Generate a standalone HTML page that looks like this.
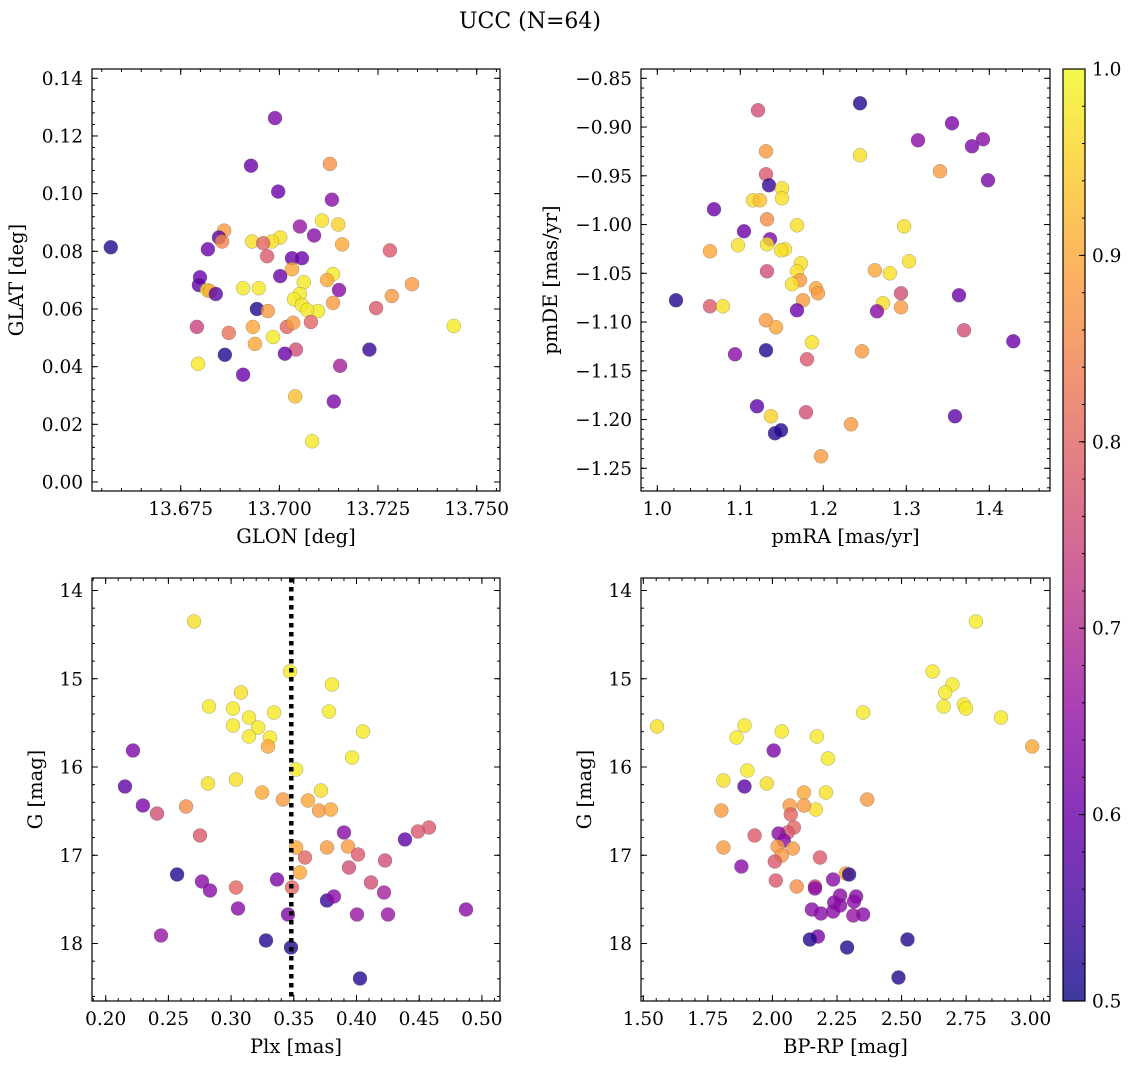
<!DOCTYPE html>
<html><head><meta charset="utf-8">
<style>
html,body{margin:0;padding:0;background:#fff;}
svg{display:block;font-family:"DejaVu Serif","Liberation Serif",serif;}
</style></head>
<body>
<svg id="chart" width="1136" height="1068" viewBox="0 0 1136 1068" xmlns="http://www.w3.org/2000/svg">
<rect x="0" y="0" width="1136" height="1068" fill="#fff"/>
<text x="530" y="28" font-size="22" text-anchor="middle">UCC (N=64)</text>
<defs>
<linearGradient id="cbgrad" x1="0" y1="1" x2="0" y2="0">
<stop offset="0" stop-color="#0d0887"/><stop offset="0.1" stop-color="#41049d"/><stop offset="0.2" stop-color="#6a00a8"/><stop offset="0.3" stop-color="#8f0da4"/><stop offset="0.4" stop-color="#b12a90"/><stop offset="0.5" stop-color="#cc4778"/><stop offset="0.6" stop-color="#e16462"/><stop offset="0.7" stop-color="#f2844b"/><stop offset="0.8" stop-color="#fca636"/><stop offset="0.9" stop-color="#fcce25"/><stop offset="1" stop-color="#f0f921"/>
</linearGradient>
</defs>
<g id="plots"></g>
</svg>
<script>
// ---- Panel 1: GLON / GLAT ----
const glonX = [13.6573,13.6989,13.6928,13.6997,13.7128,13.7133,13.7108,13.7149,13.7052,13.7088,13.7002,13.6931,13.6981,13.6959,13.6860,13.6847,13.6855,13.7159,13.6819,13.6969,13.7032,13.7057,13.7280,13.7032,13.7002,13.7062,13.7136,13.7121,13.6799,13.6796,13.6817,13.6824,13.6908,13.6948,13.6839,13.7052,13.7151,13.7336,13.7285,13.7037,13.7057,13.7136,13.7098,13.7070,13.6943,13.6971,13.7245,13.7080,13.6933,13.7019,13.7035,13.6791,13.6872,13.6938,13.6984,13.7042,13.7014,13.6862,13.7228,13.6794,13.7154,13.6908,13.7040,13.7138,13.7083,13.7442];
const glatY = [0.0814,0.1262,0.1097,0.1007,0.1103,0.0979,0.0907,0.0893,0.0886,0.0855,0.0848,0.0834,0.0834,0.0828,0.0872,0.0848,0.0834,0.0824,0.0807,0.0783,0.0776,0.0776,0.0803,0.0738,0.0714,0.0693,0.0721,0.0700,0.0710,0.0683,0.0666,0.0662,0.0672,0.0672,0.0652,0.0652,0.0666,0.0686,0.0645,0.0634,0.0614,0.0621,0.0593,0.0597,0.0600,0.0593,0.0603,0.0555,0.0538,0.0538,0.0552,0.0538,0.0517,0.0479,0.0503,0.0459,0.0445,0.0441,0.0459,0.0410,0.0403,0.0372,0.0297,0.0279,0.0141,0.0541];
const p1Prob = [.52,.62,.6,.6,.87,.64,.97,.95,.66,.64,.97,.97,.97,.8,.88,.58,.85,.9,.6,.78,.6,.6,.78,.9,.6,.98,.98,.9,.6,.58,.98,.9,.98,.98,.58,.98,.64,.88,.88,.98,.98,.88,.98,.98,.52,.88,.78,.8,.9,.8,.88,.74,.82,.9,.98,.76,.6,.52,.54,.98,.68,.6,.93,.62,.98,.98];
const p1XTicks = [13.675,13.700,13.725,13.750];
const p1XLabels = ["13.675","13.700","13.725","13.750"];
const p1YTicks = [0,0.02,0.04,0.06,0.08,0.10,0.12,0.14];
const p1YLabels = ["0.00","0.02","0.04","0.06","0.08","0.10","0.12","0.14"];

// ---- Panel 2: pmRA / pmDE ----
const pmraX = [1.1213,1.2442,1.3550,1.3141,1.3791,1.3924,1.2442,1.1310,1.1310,1.3406,1.3984,1.1346,1.1502,1.1502,1.0683,1.1153,1.1237,1.1322,1.1044,1.1683,1.1358,1.1322,1.0972,1.1539,1.1490,1.2973,1.0635,1.3033,1.1731,1.1683,1.1322,1.2622,1.2802,1.1719,1.1623,1.1912,1.1936,1.1755,1.2719,1.2936,1.2936,1.2647,1.3635,1.0225,1.0635,1.0792,1.1683,1.1310,1.1430,1.3695,1.0936,1.1310,1.1864,1.2466,1.1804,1.4289,1.1370,1.1201,1.1418,1.1490,1.1792,1.3587,1.2334,1.1972];
const pmdeY = [-0.8828,-0.8756,-0.8962,-0.9136,-0.9197,-0.9126,-0.9290,-0.9249,-0.9485,-0.9454,-0.9546,-0.9597,-0.9628,-0.9731,-0.9844,-0.9751,-0.9751,-0.9946,-1.0069,-1.0008,-1.0151,-1.0203,-1.0213,-1.0254,-1.0264,-1.0018,-1.0274,-1.0377,-1.0397,-1.0479,-1.0479,-1.0469,-1.0500,-1.0572,-1.0613,-1.0654,-1.0705,-1.0777,-1.0808,-1.0705,-1.0849,-1.0890,-1.0726,-1.0777,-1.0838,-1.0838,-1.0879,-1.0982,-1.1054,-1.1085,-1.1331,-1.1290,-1.1208,-1.1300,-1.1382,-1.1197,-1.1967,-1.1864,-1.2141,-1.2110,-1.1926,-1.1967,-1.2049,-1.2377];
const p2Prob = [.76,.52,.62,.64,.62,.64,.97,.88,.78,.88,.62,.54,.97,.97,.6,.96,.93,.86,.6,.97,.62,.97,.97,.97,.97,.97,.9,.97,.97,.97,.76,.9,.97,.88,.97,.9,.88,.88,.97,.76,.88,.64,.6,.52,.78,.97,.6,.88,.9,.76,.64,.52,.97,.88,.78,.6,.95,.58,.52,.52,.76,.58,.88,.88];
const p2XTicks = [1.0,1.1,1.2,1.3,1.4];
const p2XLabels = ["1.0","1.1","1.2","1.3","1.4"];
const p2YTicks = [-0.85,-0.90,-0.95,-1.00,-1.05,-1.10,-1.15,-1.20,-1.25];
const p2YLabels = ["\u22120.85","\u22120.90","\u22120.95","\u22121.00","\u22121.05","\u22121.10","\u22121.15","\u22121.20","\u22121.25"];

// ---- Panel 3: Plx / G ----
const plxX = [0.2704,0.3470,0.3805,0.3079,0.3781,0.2824,0.3015,0.3342,0.3143,0.3215,0.3015,0.3143,0.3310,0.3294,0.4052,0.3965,0.2218,0.2154,0.3518,0.2816,0.3039,0.3717,0.3247,0.3413,0.3613,0.3701,0.3796,0.2297,0.2640,0.2409,0.2752,0.3900,0.4387,0.4578,0.4490,0.3518,0.3765,0.3932,0.4012,0.3589,0.3940,0.4227,0.3549,0.2569,0.2768,0.2832,0.3366,0.3039,0.3486,0.4116,0.4219,0.3765,0.3820,0.3055,0.3454,0.4004,0.4251,0.4873,0.2441,0.3278,0.3478,0.4028];
const plxG = [14.351,14.918,15.065,15.156,15.371,15.314,15.337,15.382,15.439,15.552,15.530,15.654,15.666,15.768,15.598,15.892,15.813,16.221,16.028,16.187,16.142,16.266,16.289,16.368,16.380,16.493,16.482,16.436,16.448,16.527,16.776,16.742,16.822,16.686,16.731,16.912,16.912,16.901,16.992,17.025,17.139,17.059,17.195,17.218,17.297,17.399,17.275,17.365,17.365,17.309,17.422,17.513,17.467,17.603,17.671,17.671,17.671,17.615,17.909,17.966,18.045,18.397];
const p3Prob = [.97,.98,.98,.97,.98,.98,.98,.98,.98,.98,.98,.98,.98,.9,.98,.98,.62,.58,.98,.97,.97,.97,.9,.88,.9,.88,.9,.62,.86,.76,.78,.64,.58,.78,.78,.9,.88,.88,.78,.8,.76,.76,.9,.52,.64,.64,.62,.8,.8,.76,.68,.54,.64,.64,.62,.66,.66,.64,.66,.52,.52,.52];
const plxRef = [0.348];
const p3XTicks = [0.20,0.25,0.30,0.35,0.40,0.45,0.50];
const p3XLabels = ["0.20","0.25","0.30","0.35","0.40","0.45","0.50"];
const gTicks = [14,15,16,17,18];
const gLabels = ["14","15","16","17","18"];

// ---- Panel 4: BP-RP / G ----
const bprpX = [2.788,2.620,2.697,2.669,2.741,2.663,2.749,2.885,1.553,1.892,1.861,2.036,2.172,3.006,2.351,2.005,2.215,1.903,1.892,1.978,1.810,2.207,2.122,2.367,2.168,2.122,1.802,2.067,2.071,2.083,2.059,2.024,1.931,2.044,2.020,1.810,2.079,2.036,2.009,2.184,1.880,2.285,2.297,2.013,2.094,2.235,2.165,2.262,2.262,2.324,2.316,2.239,2.165,2.153,2.188,2.235,2.313,2.351,2.176,2.145,2.523,2.289,2.488];
const bprpG = [14.351,14.918,15.065,15.156,15.292,15.314,15.337,15.439,15.541,15.530,15.666,15.598,15.654,15.768,15.382,15.813,15.904,16.040,16.221,16.187,16.153,16.289,16.289,16.368,16.482,16.436,16.493,16.436,16.538,16.686,16.742,16.754,16.776,16.833,16.901,16.912,16.924,17.003,17.071,17.025,17.127,17.207,17.218,17.286,17.354,17.275,17.354,17.456,17.569,17.467,17.524,17.535,17.377,17.615,17.660,17.637,17.683,17.671,17.921,17.955,17.955,18.045,18.385];
const p4Prob = [.98,.98,.98,.98,.98,.98,.98,.98,.97,.98,.98,.98,.98,.9,.98,.62,.98,.98,.58,.97,.97,.97,.9,.88,.97,.88,.88,.88,.8,.8,.78,.64,.78,.64,.88,.88,.88,.88,.78,.78,.64,.9,.52,.78,.86,.64,.74,.64,.64,.64,.64,.64,.64,.64,.64,.64,.66,.64,.62,.52,.52,.52,.52];
const p4XTicks = [1.50,1.75,2.00,2.25,2.50,2.75,3.00];
const p4XLabels = ["1.50","1.75","2.00","2.25","2.50","2.75","3.00"];

// ---- Colorbar ----
const cbTicks = [0.5,0.6,0.7,0.8,0.9,1.0];
const cbLabels = ["0.5","0.6","0.7","0.8","0.9","1.0"];

const NS = "http://www.w3.org/2000/svg";
const root = document.getElementById('plots');
const plasma = ["#0d0887","#41049d","#6a00a8","#8f0da4","#b12a90","#cc4778","#e16462","#f2844b","#fca636","#fcce25","#f0f921"];
function hex(h){return [parseInt(h.substr(1,2),16),parseInt(h.substr(3,2),16),parseInt(h.substr(5,2),16)];}
function cmap(p){
  let t=(p-0.5)/0.5; t=Math.max(0,Math.min(1,t));
  const f=t*10, i=Math.min(9,Math.floor(f)), r=f-i;
  const a=hex(plasma[i]), b=hex(plasma[i+1]);
  return "rgb("+a.map((v,k)=>Math.round(v+(b[k]-v)*r)).join(",")+")";
}
function mk(tag, attrs, parent){
  const e=document.createElementNS(NS,tag);
  for(const k in attrs) e.setAttribute(k,attrs[k]);
  (parent||root).appendChild(e);
  return e;
}
function linmap(d0,d1,r0,r1){return v=>r0+(v-d0)/(d1-d0)*(r1-r0);}
function minorList(a,b,step){const out=[];const n=Math.round((b-a)/step);for(let i=0;i<=n;i++)out.push(a+i*step);return out;}

const TICKFS=18.5, LABFS=19.5;

function panel(cfg){
  const g=mk('g',{});
  
  
  const sx=linmap(cfg.xd[0],cfg.xd[1],cfg.xr[0],cfg.xr[1]);
  const sy=linmap(cfg.yd[0],cfg.yd[1],cfg.yr[0],cfg.yr[1]);
  const L=cfg.box[0],R=cfg.box[1],T=cfg.box[2],B=cfg.box[3];
  const pts=mk('g',{},g);
  
  
  for(let i=0;i<cfg.xs.length;i++){
    const c=mk('circle',{cx:sx(cfg.xs[i]).toFixed(1),cy:sy(cfg.ys[i]).toFixed(1),r:7,fill:cmap(cfg.ps[i]),'fill-opacity':0.8,stroke:'#555','stroke-opacity':0.5,'stroke-width':0.5},pts);
    
    
  }
  if(cfg.vline){
    for(const v of cfg.vline){
      const ln=mk('line',{x1:sx(v),x2:sx(v),y1:T,y2:B,stroke:'#000','stroke-width':4.5,'stroke-dasharray':'4.5 4.5'},g);
      
      
    }
  }
  const fr=mk('rect',{x:L,y:T,width:R-L,height:B-T,fill:'none',stroke:'#000','stroke-width':1.2},g);
  
  
  const tk=mk('g',{stroke:'#000','stroke-width':1},g);
  
  
  for(const v of minorList(cfg.xm[0],cfg.xm[1],cfg.xm[2])){ const x=sx(v); if(x<L||x>R)continue;
    mk('line',{x1:x,x2:x,y1:B,y2:B-3},tk); mk('line',{x1:x,x2:x,y1:T,y2:T+3},tk);}
  for(const v of minorList(cfg.ym[0],cfg.ym[1],cfg.ym[2])){ const y=sy(v); if(y<T||y>B)continue;
    mk('line',{x1:L,x2:L+3,y1:y,y2:y},tk); mk('line',{x1:R,x2:R-3,y1:y,y2:y},tk);}
  const lab=mk('g',{'font-size':TICKFS,fill:'#000'},g);
  cfg.xt.forEach((v,i)=>{const x=sx(v);
    mk('line',{x1:x,x2:x,y1:B,y2:B-6},tk); mk('line',{x1:x,x2:x,y1:T,y2:T+6},tk);
    const t=mk('text',{x:x,y:B+24,'text-anchor':'middle'},lab); t.textContent=cfg.xl[i];
    
    
  });
  cfg.yt.forEach((v,i)=>{const y=sy(v);
    mk('line',{x1:L,x2:L+6,y1:y,y2:y},tk); mk('line',{x1:R,x2:R-6,y1:y,y2:y},tk);
    const t=mk('text',{x:L-9,y:y+6.5,'text-anchor':'end'},lab); t.textContent=cfg.yl[i];
    
    
  });
  const xt=mk('text',{x:(L+R)/2,y:B+52,'text-anchor':'middle','font-size':LABFS},g); xt.textContent=cfg.xlabel;
  
  
  const yc=(T+B)/2;
  const yt=mk('text',{x:cfg.ylabx,y:yc,'text-anchor':'middle','font-size':LABFS,transform:'rotate(-90 '+cfg.ylabx+' '+yc+')'},g); yt.textContent=cfg.ylabel;
  
  
}

panel({name:'glon-glat-panel',box:[92,500,69,491],xd:[13.675,13.750],xr:[180.7,476.7],yd:[0,0.14],yr:[482,78.3],
  xs:glonX,ys:glatY,ps:p1Prob,xt:p1XTicks,xl:p1XLabels,yt:p1YTicks,yl:p1YLabels,
  xm:[13.645,13.760,0.005],ym:[-0.004,0.144,0.004],xlabel:'GLON [deg]',ylabel:'GLAT [deg]',ylabx:23});
panel({name:'pm-panel',box:[641,1050,69,491],xd:[1.0,1.4],xr:[657.3,989.3],yd:[-0.85,-1.25],yr:[78.3,468.3],
  xs:pmraX,ys:pmdeY,ps:p2Prob,xt:p2XTicks,xl:p2XLabels,yt:p2YTicks,yl:p2YLabels,
  xm:[0.96,1.48,0.02],ym:[-1.28,-0.84,0.01],xlabel:'pmRA [mas/yr]',ylabel:'pmDE [mas/yr]',ylabx:557});
panel({name:'plx-g-panel',box:[92,500,578,1001],xd:[0.20,0.50],xr:[105.7,481.9],yd:[14,18],yr:[590.5,943.5],
  xs:plxX,ys:plxG,ps:p3Prob,xt:p3XTicks,xl:p3XLabels,yt:gTicks,yl:gLabels,vline:plxRef,
  xm:[0.17,0.52,0.01],ym:[13.8,18.8,0.2],xlabel:'Plx [mas]',ylabel:'G [mag]',ylabx:42});
panel({name:'cmd-panel',box:[641,1050,578,1001],xd:[1.5,3.0],xr:[643.3,1030.7],yd:[14,18],yr:[590.5,943.5],
  xs:bprpX,ys:bprpG,ps:p4Prob,xt:p4XTicks,xl:p4XLabels,yt:gTicks,yl:gLabels,
  xm:[1.25,3.1,0.05],ym:[13.8,18.8,0.2],xlabel:'BP-RP [mag]',ylabel:'G [mag]',ylabx:591});

(function(){
  const g=mk('g',{});
  
  
  const T=69,B=1001,L=1063,R=1085;
  const sy=linmap(0.5,1.0,B,T);
  const r=mk('rect',{x:L,y:T,width:R-L,height:B-T,fill:'url(#cbgrad)','fill-opacity':0.8,stroke:'#000','stroke-width':1.2},g);
  
  
  for(const v of minorList(0.5,1.0,0.02)){const y=sy(v); mk('line',{x1:R,x2:R-3,y1:y,y2:y,stroke:'#000'},g);}
  cbTicks.forEach((v,i)=>{const y=sy(v);
    mk('line',{x1:R,x2:R-6,y1:y,y2:y,stroke:'#000'},g);
    const t=mk('text',{x:R+7,y:y+6.5,'font-size':TICKFS},g); t.textContent=cbLabels[i];
    
    
  });
})();
</script>
</body></html>
